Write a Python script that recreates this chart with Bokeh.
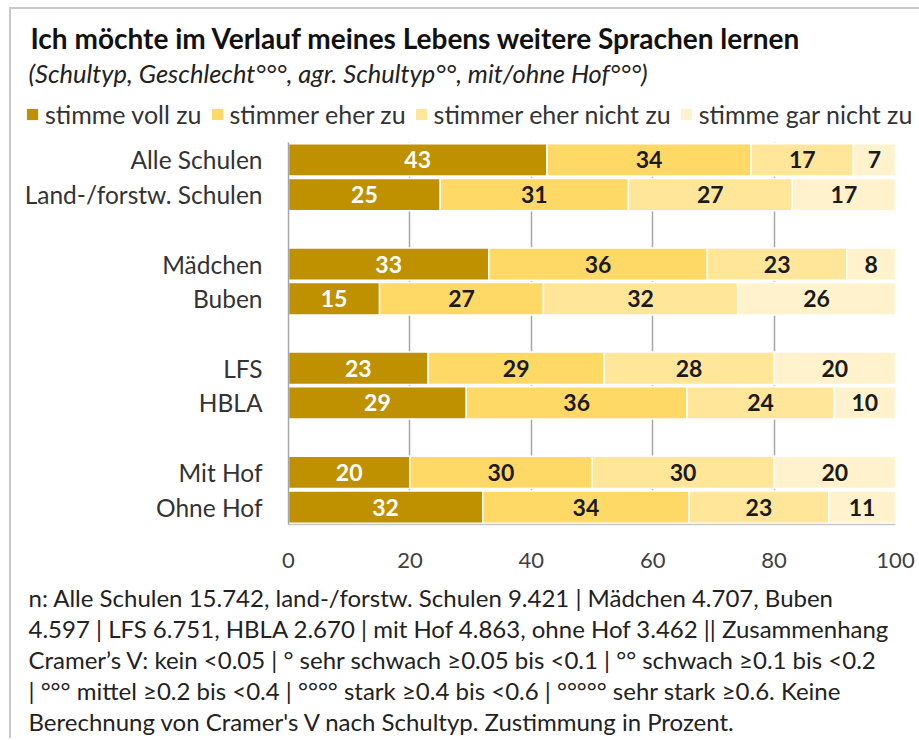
from bokeh.plotting import figure
from bokeh.layouts import column
from bokeh.models import (ColumnDataSource, Legend, LegendItem, Label, FixedTicker)
from bokeh.core.properties import value
from bokeh.embed import file_html
from bokeh.resources import INLINE

# ---------------- data ----------------
categories = ["Alle Schulen", "Land-/forstw. Schulen", "Mädchen", "Buben",
              "LFS", "HBLA", "Mit Hof", "Ohne Hof"]
groups = [2, 2, 2, 2]  # rows per group (a blank slot follows each group)
voll_zu = [43, 25, 33, 15, 23, 29, 20, 32]
eher_zu = [34, 31, 36, 27, 29, 36, 30, 34]
eher_nicht_zu = [17, 27, 23, 32, 28, 24, 30, 23]
gar_nicht_zu = [7, 17, 8, 26, 20, 10, 20, 11]
series_names = ["stimme voll zu", "stimmer eher zu", "stimmer eher nicht zu",
                "stimme gar nicht zu"]
series_colors = ["#BF9000", "#FFD966", "#FFE699", "#FFF2CC"]
label_colors = ["white", "#1a1a1a", "#1a1a1a", "#1a1a1a"]
x_ticks = [0, 20, 40, 60, 80, 100]

title_text = "Ich möchte im Verlauf meines Lebens weitere Sprachen lernen"
subtitle_text = "(Schultyp, Geschlecht°°°, agr. Schultyp°°, mit/ohne Hof°°°)"
footnote_lines = [
    "n: Alle Schulen 15.742, land-/forstw. Schulen 9.421 | Mädchen 4.707, Buben",
    "4.597 | LFS 6.751, HBLA 2.670 | mit Hof 4.863, ohne Hof 3.462 || Zusammenhang",
    "Cramer’s V: kein <0.05 | ° sehr schwach ≥0.05 bis <0.1 | °° schwach ≥0.1 bis <0.2",
    "| °°° mittel ≥0.2 bis <0.4 | °°°° stark ≥0.4 bis <0.6 | °°°°° sehr stark ≥0.6. Keine",
    "Berechnung von Cramer's V nach Schultyp. Zustimmung in Prozent.",
]

FONT = "Lato"
W = 908          # width of each figure (page minus border offset)
TOP_H, MAIN_H, BOT_H = 133, 432, 164

# ---------------- row positions (slots from top, blank slot after each group) --------
n_slots = sum(g + 1 for g in groups) - 1
ys = []
slot = 0
for g in groups:
    for _ in range(g):
        ys.append(n_slots - slot - 0.5)
        slot += 1
    slot += 1

series = [voll_zu, eher_zu, eher_nicht_zu, gar_nicht_zu]
totals = [sum(v) for v in zip(*series)]


def blank_fig(h):
    f = figure(width=W, height=h, output_backend="svg", toolbar_location=None,
               x_range=(0, W), y_range=(h, 0), min_border=0,
               x_axis_location=None, y_axis_location=None)
    f.frame_align = False
    f.grid.visible = False
    f.outline_line_color = None
    return f


# ---------------- header: title, subtitle, legend ----------------
top = blank_fig(TOP_H)
top.add_layout(Label(x=19, y=28, text=title_text, text_font=FONT,
                     text_font_style="bold", text_font_size="28px",
                     text_color="#111111", text_baseline="middle"))
top.add_layout(Label(x=17, y=63, text=subtitle_text, text_font=FONT,
                     text_font_style="italic", text_font_size="25.5px",
                     text_color="#222222", text_baseline="middle"))
legend_items = []
for name, col in zip(series_names, series_colors):
    # legend key renderers: one point far outside the visible range
    r = top.rect(x=[-1000], y=[-1000], width=1, height=1, fill_color=col,
                 line_color=None)
    legend_items.append(LegendItem(label=name, renderers=[r]))
top.add_layout(Legend(items=legend_items, orientation="horizontal",
                      location=(14, 13), glyph_width=14, glyph_height=14,
                      label_standoff=6, spacing=8, padding=0, margin=0,
                      border_line_color=None, background_fill_alpha=0,
                      label_text_font=FONT, label_text_font_size="25px",
                      label_text_color="#333333"))

# ---------------- main chart ----------------
p = figure(width=W, height=MAIN_H, output_backend="svg", toolbar_location=None,
           x_range=(0, 100), y_range=(0, n_slots),
           min_border_left=277, min_border_right=24,
           min_border_top=0, min_border_bottom=50)
p.frame_align = False
p.outline_line_color = None

cum = [0.0] * len(categories)
for vals, name, col, lcol in zip(series, series_names, series_colors, label_colors):
    left = cum[:]
    right = [c + v / t * 100 for c, v, t in zip(cum, vals, totals)]
    cum = right
    src = ColumnDataSource(dict(
        y=ys, left=left, right=right,
        mid=[(a + b) / 2 for a, b in zip(left, right)],
        lab=[str(v) for v in vals]))
    p.hbar(y="y", left="left", right="right", height=0.93, source=src,
           fill_color=col, line_color="white", line_width=1.5)
    p.text(x="mid", y="y", text="lab", source=src, text_align="center",
           text_baseline="middle", text_font=value(FONT), text_font_style="bold",
           text_font_size="23px", text_color=lcol)

p.xaxis.ticker = FixedTicker(ticks=x_ticks)
p.xaxis.axis_line_color = "#c8c8c8"
p.xaxis.axis_line_width = 1.5
p.xaxis.major_tick_line_color = None
p.xaxis.minor_tick_line_color = None
p.xaxis.major_label_text_font = FONT
p.xaxis.major_label_text_font_size = "22px"
p.xaxis.major_label_text_color = "#404040"
p.xaxis.major_label_standoff = 22

p.yaxis.ticker = FixedTicker(ticks=ys)
p.yaxis.major_label_overrides = {y: c for y, c in zip(ys, categories)}
p.yaxis.axis_line_color = "#a6a6a6"
p.yaxis.axis_line_width = 1.5
p.yaxis.major_tick_line_color = None
p.yaxis.minor_tick_line_color = None
p.yaxis.major_label_text_font = FONT
p.yaxis.major_label_text_font_size = "24.5px"
p.yaxis.major_label_text_color = "#333333"
p.yaxis.major_label_standoff = 20

p.xgrid.ticker = FixedTicker(ticks=x_ticks[1:])
p.xgrid.grid_line_color = "#a6a6a6"
p.xgrid.grid_line_width = 1.5
p.ygrid.grid_line_color = None

# ---------------- footnote ----------------
bot = blank_fig(BOT_H)
for i, line in enumerate(footnote_lines):
    bot.add_layout(Label(x=17, y=23 + i * 31, text=line, text_font=FONT,
                         text_font_size="24px", text_color="#222222",
                         text_baseline="middle"))

page = column(top, p, bot, spacing=0,
              styles={"border-left": "2px solid #c8c8c8",
                      "border-top": "2px solid #c8c8c8",
                      "margin-left": "9px", "margin-top": "7px"})

open("out.html", "w").write(file_html(page, INLINE))
